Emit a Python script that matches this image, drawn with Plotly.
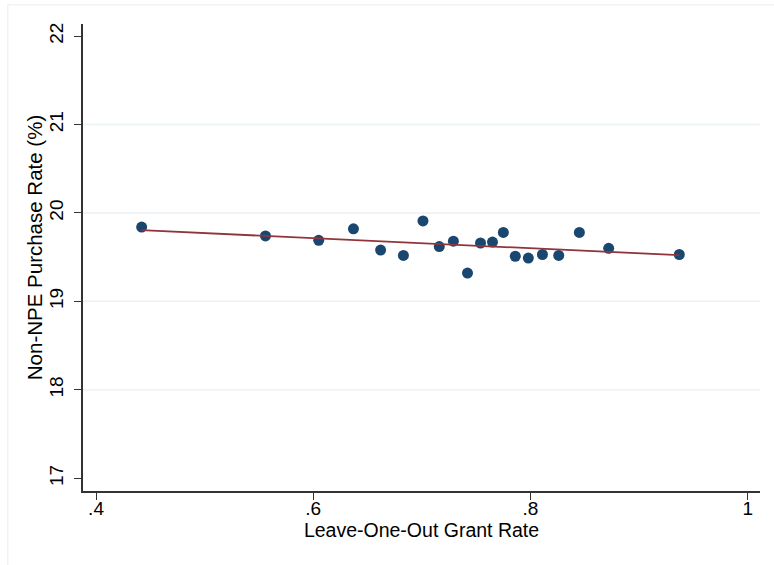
import numpy as np
import plotly.graph_objects as go

# Leave-one-out grant rate (x) and non-NPE purchase rate in percent (y), binned
grant_rate = [0.442, 0.556, 0.605, 0.637, 0.662, 0.683, 0.701, 0.716, 0.729, 0.742,
              0.754, 0.765, 0.775, 0.786, 0.798, 0.811, 0.826, 0.845, 0.872, 0.937]
purchase_rate = [19.84, 19.74, 19.69, 19.82, 19.58, 19.52, 19.91, 19.62, 19.68, 19.32,
                 19.66, 19.67, 19.78, 19.51, 19.49, 19.53, 19.52, 19.78, 19.60, 19.53]

x_ticks = [0.4, 0.6, 0.8, 1.0]
x_tick_text = [".4", ".6", ".8", "1"]
y_ticks = [17, 18, 19, 20, 21, 22]
grid_levels = [18, 19, 20, 21]

# Linear fit across the observed range
slope, intercept = np.polyfit(grant_rate, purchase_rate, 1)
fit_x = [min(grant_rate), max(grant_rate)]
fit_y = [intercept + slope * v for v in fit_x]

FONT = "Liberation Sans, Arial, sans-serif"
NAVY = "#1a476f"
MAROON = "#90353b"
AXIS = "#333333"

fig = go.Figure()
fig.add_trace(go.Scatter(
    x=grant_rate, y=purchase_rate, mode="markers",
    marker=dict(color=NAVY, size=11, line=dict(width=0)),
    showlegend=False,
))
fig.add_trace(go.Scatter(
    x=fit_x, y=fit_y, mode="lines",
    line=dict(color=MAROON, width=1.8),
    showlegend=False,
))

shapes = [
    dict(type="line", xref="x domain", yref="y", x0=0, x1=1, y0=g, y1=g,
         line=dict(color="#eaf2f3", width=1.5), layer="below")
    for g in grid_levels
]
# faint outer frame of the graph region
shapes.append(dict(type="rect", xref="paper", yref="paper", x0=-0.111, x1=1.03,
                   y0=-0.2, y1=1.041, layer="below",
                   line=dict(color="#e6eef0", width=1)))

# vertical axis title placed as a rotated annotation
annotations = [dict(
    text="Non-NPE Purchase Rate (%)", textangle=-90,
    xref="paper", yref="paper", x=-0.0716, y=0.521,
    xanchor="center", yanchor="middle", showarrow=False,
    font=dict(family=FONT, size=20.5, color="black"),
)]

fig.update_layout(
    width=774, height=565,
    margin=dict(l=82.5, r=14, t=24, b=74.3),
    paper_bgcolor="white", plot_bgcolor="white",
    font=dict(family=FONT, size=19, color="black"),
    shapes=shapes,
    annotations=annotations,
    xaxis=dict(
        range=[0.388, 1.0113], tickvals=x_ticks, ticktext=x_tick_text,
        showgrid=False, zeroline=False, showline=True, linecolor=AXIS, linewidth=1.5,
        ticks="outside", ticklen=7, tickcolor=AXIS, tickwidth=1.3,
        ticklabelstandoff=-8,
        title=dict(text="Leave-One-Out Grant Rate", standoff=6, font=dict(size=19.5)),
        tickfont=dict(size=19),
    ),
    yaxis=dict(
        range=[16.856, 22.136], tickvals=y_ticks, tickangle=-90,
        showgrid=False, zeroline=False, showline=True, linecolor=AXIS, linewidth=1.5,
        ticks="outside", ticklen=7, tickcolor=AXIS, tickwidth=1.3,
        ticklabelstandoff=4,
        tickfont=dict(size=19),
    ),
)

fig.write_html("out.html")
